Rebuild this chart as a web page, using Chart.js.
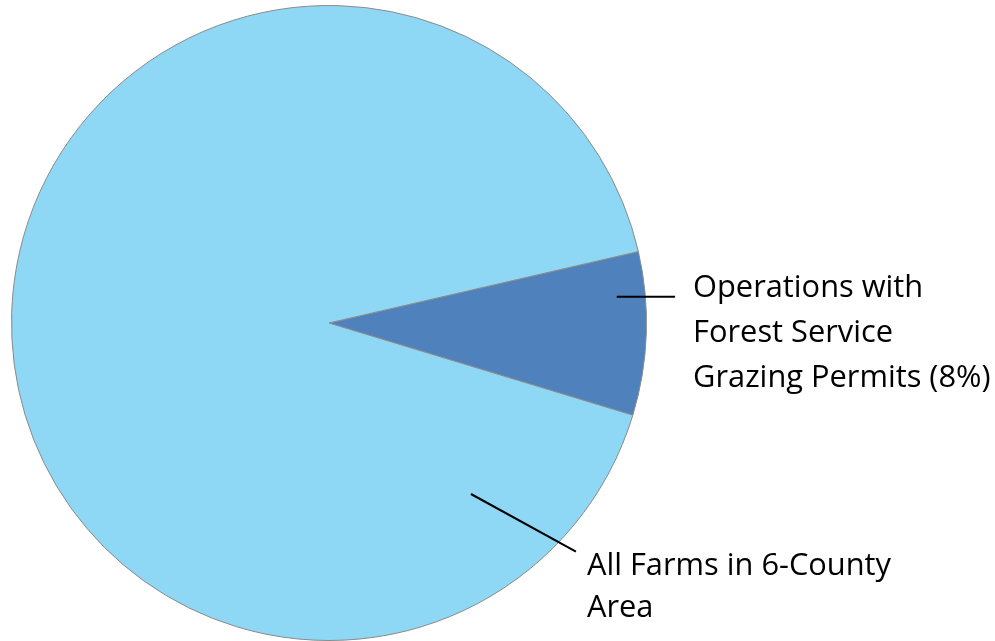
<!DOCTYPE html>
<html lang="en">
<head>
  <meta charset="UTF-8" />
  <title>Farms with Forest Service Grazing Permits</title>
  <script src="https://cdn.jsdelivr.net/npm/chart.js"></script>
  <style>
    html, body { margin: 0; padding: 0; background: #ffffff; }
    #wrap { width: 995px; height: 641px; }
  </style>
</head>
<body>
  <div id="wrap"><canvas id="pie" width="995" height="641"></canvas></div>
  <script>
    // data (share of farms, %)
    const categories = ['Operations with Forest Service Grazing Permits (8%)', 'All Farms in 6-County Area'];
    const labelLines = [
      ['Operations with', 'Forest Service', 'Grazing Permits (8%)'],
      ['All Farms in 6-County', 'Area']
    ];
    const shares = [8.3, 91.7];
    const colors = ['#4f81bd', '#8ed7f5'];

    // callout layout: leader start/end in polar terms around the pie centre
    const callouts = [
      { fromAngle: -5.2, fromR: 0.91, toAngle: null, toX: 1.09, gap: 18, baseDy: 0, lineGap: 45 },
      { fromAngle: 50.3, fromR: 0.70, toAngle: 42.8, toR: 1.06, gap: 11, baseDy: 23, lineGap: 42 }
    ];

    const calloutPlugin = {
      id: 'callouts',
      afterDatasetsDraw(chart) {
        const ctx = chart.ctx;
        const arc = chart.getDatasetMeta(0).data[0];
        const cx = arc.x, cy = arc.y, r = arc.outerRadius;
        const rad = d => d * Math.PI / 180;
        ctx.save();
        ctx.strokeStyle = '#000';
        ctx.lineWidth = 2;
        ctx.fillStyle = '#000';
        ctx.font = '30.8px "Open Sans", Lato, sans-serif';
        ctx.textBaseline = 'alphabetic';
        callouts.forEach((c, i) => {
          const x0 = cx + Math.cos(rad(c.fromAngle)) * r * c.fromR;
          const y0 = cy + Math.sin(rad(c.fromAngle)) * r * c.fromR;
          let x1, y1;
          if (c.toAngle === null) { x1 = cx + r * c.toX; y1 = y0; }
          else {
            x1 = cx + Math.cos(rad(c.toAngle)) * r * c.toR;
            y1 = cy + Math.sin(rad(c.toAngle)) * r * c.toR;
          }
          ctx.beginPath();
          ctx.moveTo(x0, y0);
          ctx.lineTo(x1, y1);
          ctx.stroke();
          labelLines[i].forEach((t, k) => {
            ctx.fillText(t, x1 + c.gap, y1 + c.baseDy + k * c.lineGap);
          });
        });
        ctx.restore();
      }
    };

    new Chart(document.getElementById('pie'), {
      type: 'pie',
      data: {
        labels: categories,
        datasets: [{
          data: shares,
          backgroundColor: colors,
          borderColor: '#8a8a8a',
          borderWidth: 1
        }]
      },
      options: {
        responsive: false,
        animation: false,
        rotation: 77,
        layout: { padding: { left: 11, right: 348, top: 5, bottom: 0 } },
        plugins: {
          legend: { display: false },
          tooltip: { enabled: false }
        }
      },
      plugins: [calloutPlugin]
    });
  </script>
</body>
</html>
